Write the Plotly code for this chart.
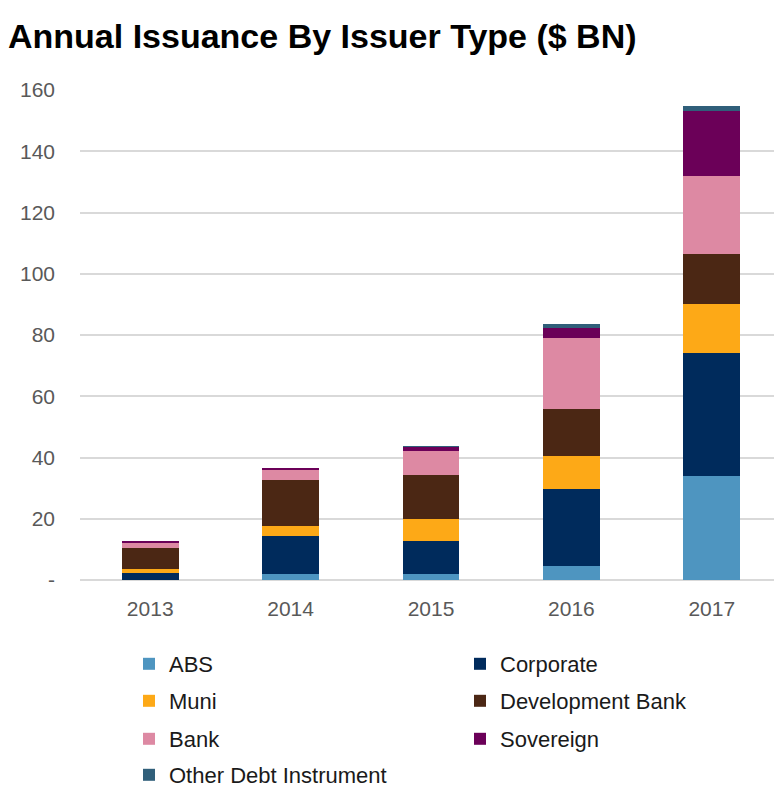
import plotly.graph_objects as go

years = ["2013", "2014", "2015", "2016", "2017"]

# $ BN
abs_issuance = [0.0, 2.0, 2.0, 4.7, 34.1]
corporate = [2.3, 12.4, 10.7, 25.0, 40.1]
muni = [1.2, 3.3, 7.1, 10.9, 15.9]
development_bank = [7.1, 14.9, 14.5, 15.2, 16.3]
bank = [1.8, 3.3, 7.8, 23.1, 25.5]
sovereign = [0.2, 0.8, 1.4, 3.3, 21.3]
other_debt = [0.0, 0.0, 0.1, 1.4, 1.7]

y_ticks = [0, 20, 40, 60, 80, 100, 120, 140, 160]
y_ticktext = ["-", "20", "40", "60", "80", "100", "120", "140", "160"]

series = [
    ("ABS", abs_issuance, "#4E95C0", "legend"),
    ("Corporate", corporate, "#002B5C", "legend"),
    ("Muni", muni, "#FDA917", "legend2"),
    ("Development Bank", development_bank, "#4B2714", "legend2"),
    ("Bank", bank, "#DD89A3", "legend3"),
    ("Sovereign", sovereign, "#6B0058", "legend3"),
    ("Other Debt Instrument", other_debt, "#305F7A", "legend4"),
]

fig = go.Figure()
for name, vals, color, leg in series:
    fig.add_trace(go.Bar(
        x=years, y=vals, name=name, legend=leg,
        marker=dict(color=color, line=dict(width=0)),
    ))

font_family = "Liberation Sans, Arial, sans-serif"

# page body has an 8px margin, so the figure is 8px smaller than the window
W, H = 774, 777

# one legend per row so the row spacing matches the original
legend_rows = {"legend": 656, "legend2": 693, "legend3": 731, "legend4": 767}
legend_layout = {}
for key, ypix in legend_rows.items():
    legend_layout[key] = dict(
        orientation="h",
        xref="container", yref="container",
        x=121 / W, y=1 - ypix / H,
        xanchor="left", yanchor="middle",
        entrywidth=286, entrywidthmode="pixels",
        font=dict(family=font_family, size=22, color="#1a1a1a"),
        bgcolor="rgba(0,0,0,0)",
        traceorder="normal",
    )

fig.update_layout(
    width=W, height=H,
    barmode="stack",
    bargap=0.595,
    plot_bgcolor="white",
    paper_bgcolor="white",
    margin=dict(l=72, r=0, t=82, b=205),
    font=dict(family=font_family),
    title=dict(
        text="<b>Annual Issuance By Issuer Type ($ BN)</b>",
        xref="container", yref="container",
        x=0, y=1 - 28 / H,
        xanchor="left", yanchor="middle",
        font=dict(family=font_family, size=34, color="#000000"),
    ),
    xaxis=dict(
        type="category",
        showgrid=False,
        showline=False,
        ticks="",
        ticklabelstandoff=14,
        tickfont=dict(family=font_family, size=21, color="#595959"),
    ),
    yaxis=dict(
        range=[0, 160],
        tickvals=y_ticks,
        ticktext=y_ticktext,
        showgrid=True,
        gridcolor="#D9D9D9",
        gridwidth=1.5,
        zeroline=True,
        zerolinecolor="#D9D9D9",
        zerolinewidth=1.5,
        showline=False,
        ticks="",
        ticklabelstandoff=24,
        tickfont=dict(family=font_family, size=21, color="#595959"),
    ),
    **legend_layout,
)

fig.write_html("out.html")
